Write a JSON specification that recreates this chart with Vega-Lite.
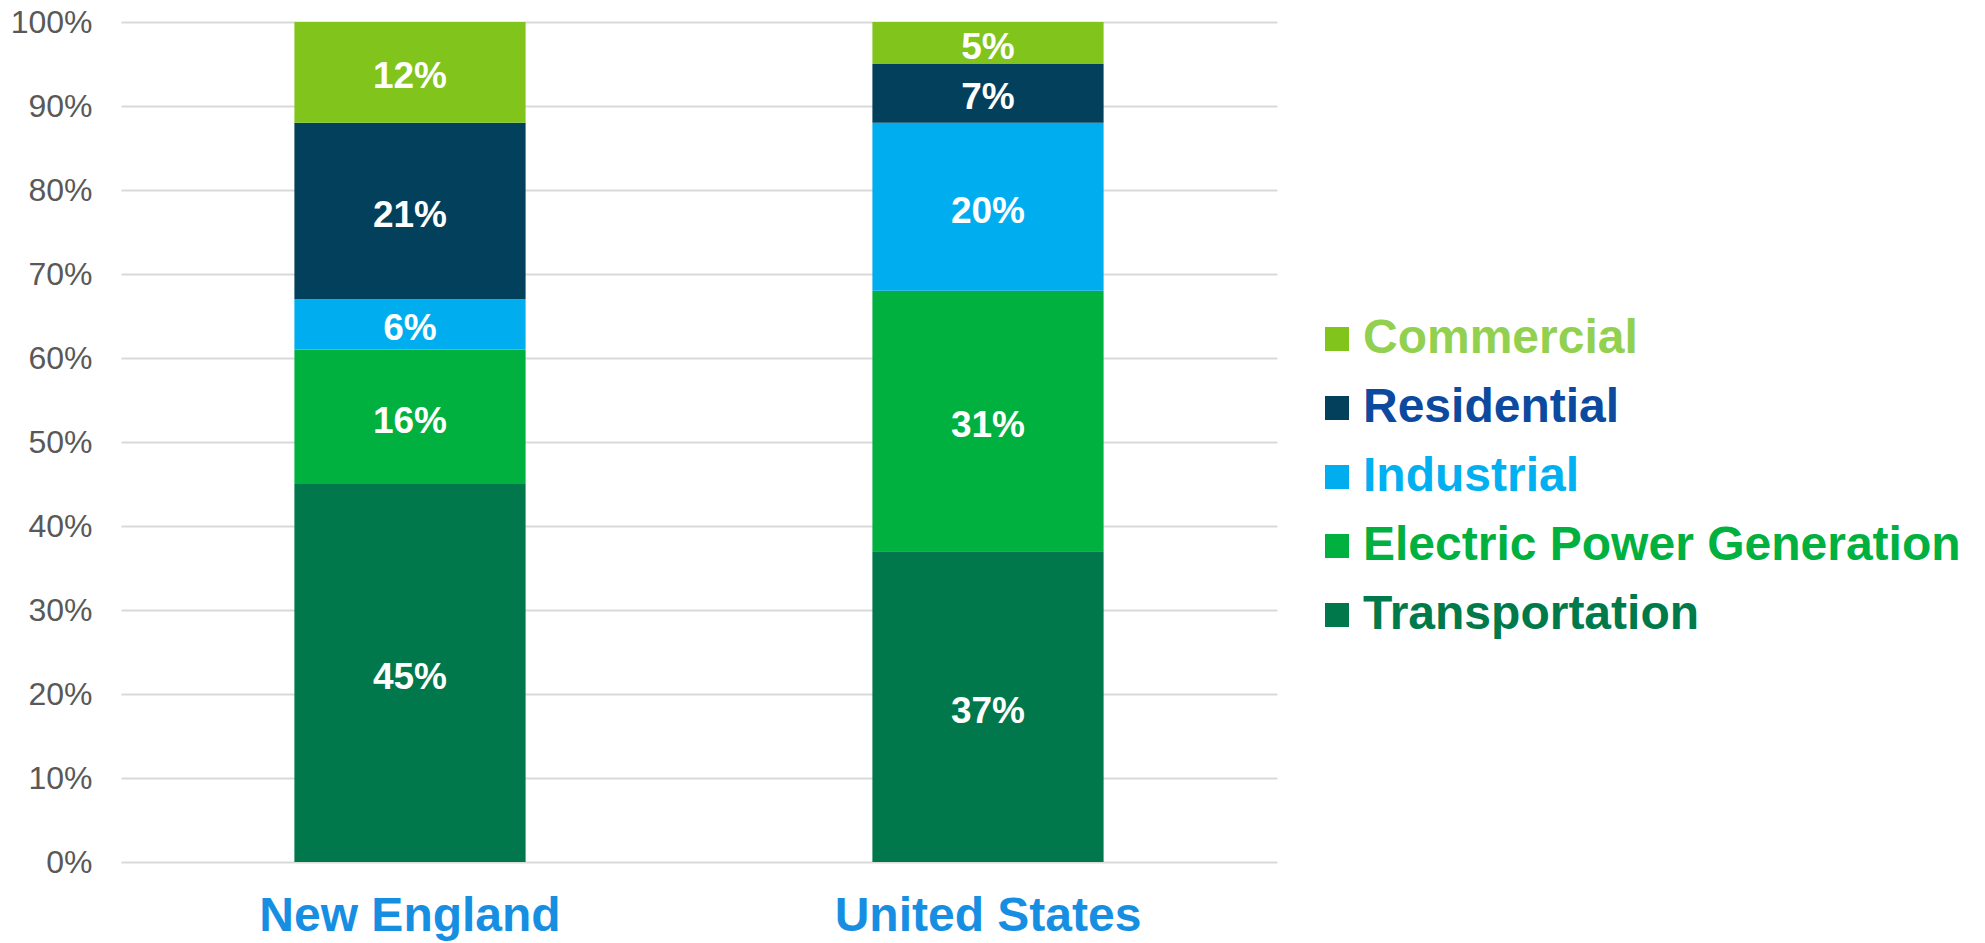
{
  "$schema": "https://vega.github.io/schema/vega-lite/v6.json",
  "width": 1156,
  "height": 840,
  "autosize": {"type": "none"},
  "padding": {"left": 121, "top": 22, "right": 708, "bottom": 81},
  "background": "white",
  "config": {"view": {"stroke": null}, "font": "Liberation Sans"},
  "data": {
    "values": [
      {"region": "New England", "sector": "Transportation", "share": 0.45},
      {"region": "New England", "sector": "Electric Power Generation", "share": 0.16},
      {"region": "New England", "sector": "Industrial", "share": 0.06},
      {"region": "New England", "sector": "Residential", "share": 0.21},
      {"region": "New England", "sector": "Commercial", "share": 0.12},
      {"region": "United States", "sector": "Transportation", "share": 0.37},
      {"region": "United States", "sector": "Electric Power Generation", "share": 0.31},
      {"region": "United States", "sector": "Industrial", "share": 0.20},
      {"region": "United States", "sector": "Residential", "share": 0.07},
      {"region": "United States", "sector": "Commercial", "share": 0.05}
    ]
  },
  "transform": [
    {"calculate": "indexof(['Transportation','Electric Power Generation','Industrial','Residential','Commercial'], datum.sector)", "as": "ord"},
    {"stack": "share", "groupby": ["region"], "sort": [{"field": "ord", "order": "ascending"}], "as": ["s0", "s1"]},
    {"calculate": "(datum.s0 + datum.s1) / 2", "as": "mid"}
  ],
  "encoding": {
    "x": {
      "field": "region",
      "type": "nominal",
      "sort": ["New England", "United States"],
      "scale": {"paddingInner": 0.6, "paddingOuter": 0.3},
      "axis": {
        "title": null,
        "labelAngle": 0,
        "labelFont": "Liberation Sans",
        "labelFontSize": 48,
        "labelFontWeight": "bold",
        "labelColor": "#168FE2",
        "labelPadding": 30,
        "labelLimit": 0,
        "ticks": false,
        "domain": false,
        "grid": false
      }
    }
  },
  "layer": [
    {
      "mark": {"type": "bar"},
      "encoding": {
        "y": {
          "field": "s0",
          "type": "quantitative",
          "scale": {"domain": [0, 1], "nice": false},
          "axis": {
            "title": null,
            "format": ".0%",
            "values": [0, 0.1, 0.2, 0.3, 0.4, 0.5, 0.6, 0.7, 0.8, 0.9, 1],
            "labelFont": "Liberation Sans",
            "labelFontSize": 32,
            "labelColor": "#595959",
            "labelPadding": 29,
            "ticks": false,
            "domain": false,
            "grid": true,
            "gridColor": "#D9D9D9",
            "gridWidth": 2
          }
        },
        "y2": {"field": "s1"},
        "color": {
          "field": "sector",
          "type": "nominal",
          "scale": {
            "domain": ["Commercial", "Residential", "Industrial", "Electric Power Generation", "Transportation"],
            "range": ["#80C41C", "#03405C", "#00AEEF", "#00B140", "#00784B"]
          },
          "legend": {
            "title": null,
            "orient": "none",
            "legendX": 1192,
            "legendY": 293,
            "padding": 0,
            "symbolType": "square",
            "symbolSize": 576,
            "symbolStrokeWidth": 0,
            "labelFont": "Liberation Sans",
            "labelFontSize": 48,
            "labelFontWeight": "bold",
            "labelOffset": 2,
            "labelLimit": 0,
            "rowPadding": 21,
            "encode": {
              "labels": {
                "update": {
                  "fill": {"signal": "datum.value === 'Commercial' ? '#92D050' : datum.value === 'Residential' ? '#0B4A9E' : datum.value === 'Industrial' ? '#00B0F0' : datum.value === 'Electric Power Generation' ? '#00B140' : '#007A4B'"}
                }
              }
            }
          }
        }
      }
    },
    {
      "mark": {"type": "text", "color": "white", "fontSize": 37, "fontWeight": "bold", "font": "Liberation Sans", "dy": 5},
      "encoding": {
        "y": {"field": "mid", "type": "quantitative"},
        "text": {"field": "share", "type": "quantitative", "format": ".0%"}
      }
    }
  ]
}
